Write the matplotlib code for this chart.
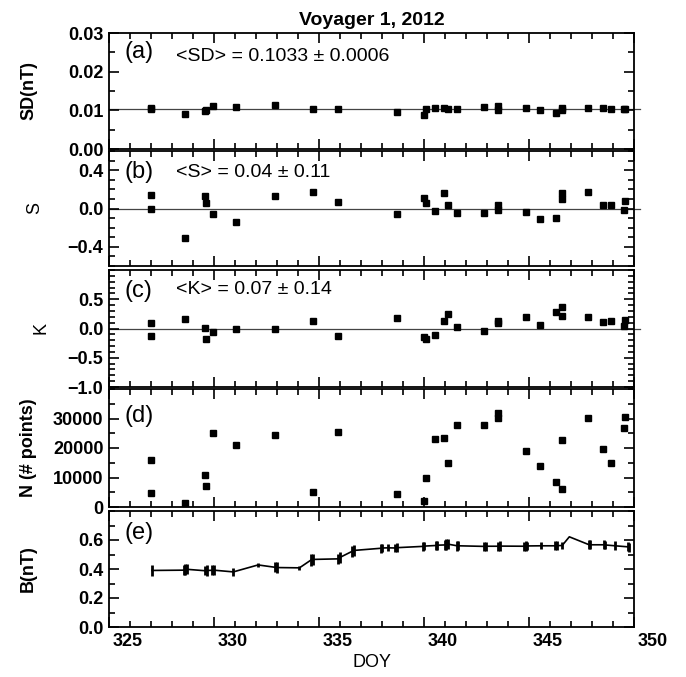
import matplotlib
matplotlib.use("Agg")
import matplotlib.pyplot as plt
from matplotlib.ticker import MultipleLocator
from matplotlib import transforms

plt.rcParams['font.family'] = ['Liberation Sans', 'DejaVu Sans']

# day of year of each interval (panels a-d)
doy = [326.98, 326.98, 328.61, 329.57, 329.63, 329.94, 331.03, 332.92, 334.72, 335.90,
       338.70, 339.99, 340.10, 340.53, 340.95, 341.12, 341.58, 342.87, 343.54, 343.54,
       344.85, 345.54, 346.27, 346.58, 346.58, 347.83, 348.54, 348.92, 349.50, 349.55]
sd = [0.0103, 0.0105, 0.0091, 0.0098, 0.0101, 0.0110, 0.0109, 0.0114, 0.0104, 0.0104,
      0.0095, 0.0088, 0.0104, 0.0107, 0.0106, 0.0103, 0.0104, 0.0109, 0.0112, 0.0100,
      0.0107, 0.0100, 0.0092, 0.0101, 0.0105, 0.0105, 0.0105, 0.0103, 0.0104, 0.0103]
skew = [0.145, -0.005, -0.31, 0.135, 0.057, -0.053, -0.14, 0.127, 0.177, 0.064,
        -0.053, 0.106, 0.057, -0.028, 0.163, 0.035, -0.05, -0.05, 0.035, -0.02,
        -0.035, -0.113, -0.096, 0.163, 0.10, 0.177, 0.035, 0.035, -0.02, 0.078]
kurt = [-0.132, 0.092, 0.167, 0.006, -0.184, -0.057, 0.0, -0.011, 0.132, -0.12,
        0.178, -0.15, -0.184, -0.115, 0.132, 0.247, 0.023, -0.046, 0.092, 0.126,
        0.19, 0.057, 0.287, 0.36, 0.218, 0.19, 0.103, 0.12, 0.046, 0.144]
npts = [16000, 4700, 1200, 10700, 7200, 25100, 21000, 24500, 5000, 25400,
        4500, 2200, 10000, 23000, 23500, 14900, 27900, 27900, 30200, 32000,
        19000, 14000, 8500, 22600, 6200, 30100, 19500, 14900, 26800, 30600]

# magnetic field strength (panel e)
doy_b = [327.05, 328.55, 328.62, 328.70, 329.58, 329.66, 329.92, 329.99, 330.92, 332.10,
         332.90, 332.98, 334.07, 334.62, 334.70, 335.92, 336.00, 336.58, 336.66, 337.95,
         338.02, 338.30, 338.62, 338.70, 339.95, 340.02, 340.55, 340.60, 341.00, 341.06,
         341.12, 341.58, 341.64, 342.86, 342.93, 343.52, 343.60, 344.78, 344.85, 344.92,
         345.56, 346.25, 346.32, 346.58, 346.92, 347.85, 347.92, 348.55, 348.62, 349.10,
         349.70, 349.78]
b_val = [0.390, 0.392, 0.396, 0.398, 0.388, 0.390, 0.391, 0.392, 0.380, 0.428,
         0.412, 0.410, 0.408, 0.462, 0.466, 0.470, 0.480, 0.522, 0.528, 0.543,
         0.545, 0.546, 0.545, 0.547, 0.556, 0.558, 0.562, 0.564, 0.566, 0.570,
         0.572, 0.560, 0.560, 0.556, 0.557, 0.557, 0.558, 0.557, 0.558, 0.559,
         0.560, 0.560, 0.561, 0.562, 0.622, 0.568, 0.567, 0.567, 0.566, 0.560,
         0.553, 0.550]
b_err = [0.035, 0.035, 0.04, 0.035, 0.03, 0.035, 0.035, 0.035, 0.03, 0.015,
         0.035, 0.035, 0.015, 0.04, 0.04, 0.035, 0.04, 0.04, 0.035, 0.03,
         0.03, 0.025, 0.03, 0.03, 0.03, 0.03, 0.03, 0.03, 0.035, 0.04,
         0.035, 0.035, 0.03, 0.03, 0.03, 0.03, 0.035, 0.03, 0.035, 0.03,
         0.025, 0.03, 0.03, 0.025, 0.0, 0.03, 0.03, 0.03, 0.03, 0.03,
         0.03, 0.03]

sd_mean = 0.0103
mean_text = ['<SD> = 0.1033 \u00b1 0.0006', '<S> = 0.04 \u00b1 0.11', '<K> = 0.07 \u00b1 0.14']

W, H = 686, 677
fig = plt.figure(figsize=(W / 100, H / 100), dpi=100)
rows = [(33, 149), (151, 266), (270, 387), (389, 507), (511, 627)]
axes = []
for top, bot in rows:
    ax = fig.add_axes([109 / W, 1 - bot / H, 525 / W, (bot - top) / H])
    axes.append(ax)
ax1, ax2, ax3, ax4, ax5 = axes

mk = dict(marker='s', ms=5, color='black', ls='none')
ax1.plot(doy, sd, **mk)
ax1.plot([325, 350.3], [sd_mean, sd_mean], color='#444444', lw=0.9, clip_on=False, zorder=1)
ax2.plot(doy, skew, **mk)
ax2.plot([325, 350.3], [0, 0], color='#444444', lw=0.9, clip_on=False, zorder=1)
ax3.plot(doy, kurt, **mk)
ax3.plot([325, 350.3], [0, 0], color='#444444', lw=0.9, clip_on=False, zorder=1)
ax4.plot(doy, npts, **mk)
ax5.errorbar(doy_b, b_val, yerr=b_err, color='black', lw=1.2, elinewidth=2.0, capsize=0)

ax1.set_ylim(0, 0.03)
ax1.set_yticks([0, 0.01, 0.02, 0.03])
ax1.set_yticklabels(['0.00', '0.01', '0.02', '0.03'])
ax1.yaxis.set_minor_locator(MultipleLocator(0.005))
ax2.set_ylim(-0.6, 0.6)
ax2.set_yticks([-0.4, 0.0, 0.4])
ax2.yaxis.set_minor_locator(MultipleLocator(0.1))
ax3.set_ylim(-1.0, 1.0)
ax3.set_yticks([-1.0, -0.5, 0.0, 0.5])
ax3.yaxis.set_minor_locator(MultipleLocator(0.1))
ax4.set_ylim(0, 40000)
ax4.set_yticks([0, 10000, 20000, 30000])
ax4.yaxis.set_minor_locator(MultipleLocator(5000))
ax5.set_ylim(0, 0.8)
ax5.set_yticks([0.0, 0.2, 0.4, 0.6])
ax5.yaxis.set_minor_locator(MultipleLocator(0.1))

ylabels = [('SD(nT)', 'bold'), ('S', 'normal'), ('K', 'normal'), ('N (# points)', 'bold'), ('B(nT)', 'bold')]
ylabel_x = [-0.137, -0.126, -0.114, -0.137, -0.137]
letters = ['(a)', '(b)', '(c)', '(d)', '(e)']
letter_y = [0.836, 0.817, 0.82, 0.77, 0.81]
text_y = [0.80, 0.817, 0.83]
for i, ax in enumerate(axes):
    ax.set_xlim(325, 350)
    ax.xaxis.set_major_locator(MultipleLocator(5))
    ax.xaxis.set_minor_locator(MultipleLocator(1))
    ax.tick_params(which='both', direction='in', top=True, right=True, width=1.2)
    ax.tick_params(which='major', length=7, labelsize=13, pad=4)
    ax.tick_params(which='minor', length=4)
    for s in ax.spines.values():
        s.set_linewidth(1.3)
    for lab in ax.get_yticklabels():
        lab.set_fontweight('bold')
    ax.set_ylabel(ylabels[i][0], fontsize=13, fontweight=ylabels[i][1])
    ax.yaxis.set_label_coords(ylabel_x[i], 0.5)
    ax.text(0.029, letter_y[i], letters[i], transform=ax.transAxes, fontsize=17, va='center')
    if i < 3:
        ax.text(0.127, text_y[i], mean_text[i], transform=ax.transAxes, fontsize=14, va='center')
    if i < 4:
        ax.tick_params(labelbottom=False)

ax5.set_xticks([325, 330, 335, 340, 345, 350])
offset = transforms.ScaledTranslation(0.19, 0, fig.dpi_scale_trans)
for lab in ax5.get_xticklabels():
    lab.set_fontweight('bold')
    lab.set_transform(lab.get_transform() + offset)
ax5.set_xlabel('DOY', fontsize=13, labelpad=3)
ax1.set_title('Voyager 1, 2012', fontsize=14, fontweight='bold', pad=6)

fig.savefig('out.png', dpi=100)
